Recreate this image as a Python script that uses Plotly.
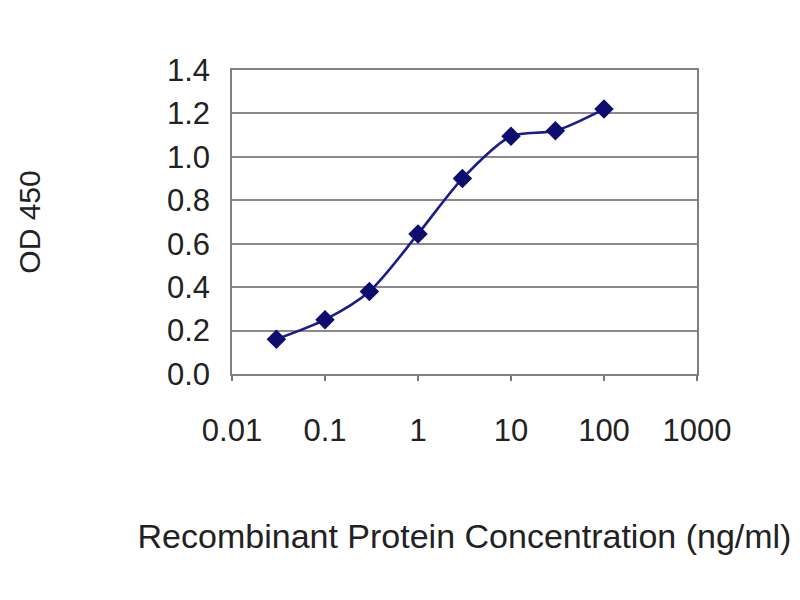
import plotly.graph_objects as go

concentration = [0.03, 0.1, 0.3, 1, 3, 10, 30, 100]
od450 = [0.16, 0.25, 0.38, 0.645, 0.90, 1.095, 1.12, 1.22]

x_tick_vals = [0.01, 0.1, 1, 10, 100, 1000]
x_tick_text = ["0.01", "0.1", "1", "10", "100", "1000"]
y_tick_vals = [0.0, 0.2, 0.4, 0.6, 0.8, 1.0, 1.2, 1.4]
y_tick_text = ["0.0", "0.2", "0.4", "0.6", "0.8", "1.0", "1.2", "1.4"]

font_family = "Liberation Sans, Arial, sans-serif"

fig = go.Figure()
fig.add_trace(go.Scatter(
    x=concentration, y=od450,
    mode="lines+markers",
    line=dict(color="#1c1c8a", width=2.6, shape="spline", smoothing=0.8),
    marker=dict(symbol="diamond", size=15, color="#0d0d70"),
    showlegend=False,
))

fig.update_layout(
    width=800, height=600,
    paper_bgcolor="white", plot_bgcolor="white",
    margin=dict(l=224, r=111, t=62, b=234),
    font=dict(family=font_family, color="#222222"),
    xaxis=dict(
        type="log", range=[-2, 3],
        tickvals=x_tick_vals, ticktext=x_tick_text,
        tickfont=dict(size=31),
        ticks="outside", ticklen=5, tickcolor="#777777", tickwidth=1.5,
        ticklabelstandoff=23,
        showgrid=False, zeroline=False,
        showline=True, linecolor="#808080", linewidth=1.5, mirror=True,
        title=dict(text="Recombinant Protein Concentration (ng/ml)",
                   font=dict(size=34), standoff=77),
    ),
    yaxis=dict(
        range=[0, 1.4],
        tickvals=y_tick_vals, ticktext=y_tick_text,
        tickfont=dict(size=31),
        ticks="", ticklabelstandoff=14,
        showgrid=True, gridcolor="#8a8a8a", gridwidth=1.5,
        zeroline=False,
        showline=True, linecolor="#808080", linewidth=1.5, mirror=True,
        title=dict(text="OD 450", font=dict(size=30), standoff=117),
    ),
)

fig.write_html("out.html")
